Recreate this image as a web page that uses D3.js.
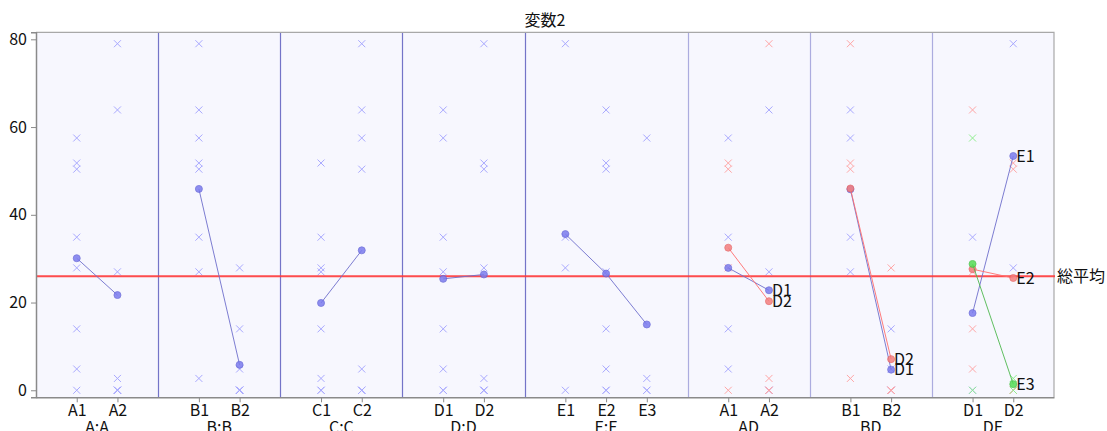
<!DOCTYPE html>
<html><head><meta charset="utf-8">
<script src="https://cdn.jsdelivr.net/npm/d3@7"></script>
<style>
html,body{margin:0;padding:0;background:#fff;}
svg{display:block;}
text{font-family:"Liberation Sans Narrow","Noto Sans CJK JP",sans-serif;}
</style></head>
<body><svg id="c" width="1107" height="431"></svg>
<script>
// ---------- data ----------
const title = "変数2";
const grandMeanLabel = "総平均";
const grandMean = 26.0;
const yTicks = [0, 20, 40, 60, 80];

const panelNames  = ["A:A", "B:B", "C:C", "D:D", "E:E", "AD", "BD", "DE"];
const panelLevels = [["A1","A2"],["B1","B2"],["C1","C2"],["D1","D2"],["E1","E2","E3"],["A1","A2"],["B1","B2"],["D1","D2"]];
const panelSeries = [[""],[""],[""],[""],[""],["D1","D2"],["D1","D2"],["E1","E2","E3"]];

// means (one array per series, one value per level)
const meanA = [30.1, 21.7];
const meanB = [45.9, 5.8];
const meanC = [19.9, 31.9];
const meanD = [25.4, 26.4];
const meanE = [35.6, 26.6, 15.0];
const meanAD_D1 = [27.9, 22.8];
const meanAD_D2 = [32.5, 20.3];
const meanBD_D1 = [45.8, 4.7];
const meanBD_D2 = [46.0, 7.1];
const meanDE_E1 = [17.6, 53.4];
const meanDE_E2 = [27.6, 25.6];
const meanDE_E3 = [28.8, 1.4];

// observations (one array per series per level)
const obsA1 = [57.5, 51.8, 50.4, 34.9, 27.9, 14.0, 4.85, 0];
const obsA2 = [79, 63.9, 27, 2.7, 0, 0, 0, 0];
const obsB1 = [79, 63.9, 57.5, 51.8, 50.4, 34.9, 27, 2.7];
const obsB2 = [27.9, 14, 4.85, 0, 0, 0, 0, 0];
const obsC1 = [51.8, 34.9, 27.9, 27, 14, 2.7, 0, 0];
const obsC2 = [79, 63.9, 57.5, 50.4, 4.85, 0, 0, 0];
const obsD1 = [63.9, 57.5, 34.9, 27, 14, 4.85, 0, 0];
const obsD2 = [79, 51.8, 50.4, 27.9, 2.7, 0, 0, 0];
const obsE1 = [79, 34.9, 27.9, 0];
const obsE2 = [63.9, 51.8, 50.4, 27, 14, 4.85, 0, 0];
const obsE3 = [57.5, 2.7, 0, 0];
const obsAD_A1D1 = [57.5, 34.9, 14, 4.85];
const obsAD_A1D2 = [51.8, 50.4, 27.9, 0];
const obsAD_A2D1 = [63.9, 27, 0, 0];
const obsAD_A2D2 = [79, 2.7, 0, 0];
const obsBD_B1D1 = [63.9, 57.5, 34.9, 27];
const obsBD_B1D2 = [79, 51.8, 50.4, 2.7];
const obsBD_B2D1 = [14, 4.85, 0, 0];
const obsBD_B2D2 = [27.9, 0, 0, 0];
const obsDE_D1E1 = [34.9, 0];
const obsDE_D1E2 = [63.9, 27, 14, 4.85];
const obsDE_D1E3 = [57.5, 0];
const obsDE_D2E1 = [79, 27.9];
const obsDE_D2E2 = [51.8, 50.4, 0, 0];
const obsDE_D2E3 = [2.7, 0];

// table built from the arrays: per panel, per series -> means + obs by level
const panelMeans = [
  [meanA],[meanB],[meanC],[meanD],[meanE],
  [meanAD_D1, meanAD_D2],[meanBD_D1, meanBD_D2],[meanDE_E1, meanDE_E2, meanDE_E3]
];
const panelObs = [
  [[obsA1, obsA2]],[[obsB1, obsB2]],[[obsC1, obsC2]],[[obsD1, obsD2]],[[obsE1, obsE2, obsE3]],
  [[obsAD_A1D1, obsAD_A2D1],[obsAD_A1D2, obsAD_A2D2]],
  [[obsBD_B1D1, obsBD_B2D1],[obsBD_B1D2, obsBD_B2D2]],
  [[obsDE_D1E1, obsDE_D2E1],[obsDE_D1E2, obsDE_D2E2],[obsDE_D1E3, obsDE_D2E3]]
];

// ---------- styles ----------
const pal = [
  {dot:"#7b7bee", dotStroke:"#6262d6", line:"#6f6fcc", cross:"#a9a9ff"},
  {dot:"#f47f7f", dotStroke:"#e46262", line:"#ff6e6e", cross:"#ffa6a6"},
  {dot:"#55dd55", dotStroke:"#3fbf3f", line:"#4fb84f", cross:"#8fee8f"}
];

const L = 36, R = 1054, T = 32.3, B = 397.3;
const svg = d3.select("#c");

// slot layout
let offsets = [], acc = 0;
panelLevels.forEach(lv => { offsets.push(acc); acc += lv.length + 1; });
const totalUnits = acc;
const x = d3.scaleLinear().domain([0, totalUnits]).range([L, R]);
const y = d3.scaleLinear().domain([-1.6, 81.6]).range([B, T]);

// background
svg.append("rect").attr("x", L).attr("y", T).attr("width", R - L).attr("height", B - T)
  .attr("fill", "#f7f7fe");

// dividers
panelLevels.forEach((lv, i) => {
  if (i === 0) return;
  const xx = Math.round(x(offsets[i])) + 0.5;
  svg.append("line").attr("x1", xx).attr("x2", xx).attr("y1", T).attr("y2", B)
    .attr("stroke", i <= 4 ? "#7474c8" : "#acacdf").attr("stroke-width", 1.2);
});

// border top/right
svg.append("path").attr("d", `M${L},${T}H${R}V${B}`).attr("fill", "none")
  .attr("stroke", "#a8a8a8").attr("stroke-width", 1.2);

// crosses
const crossPath = "M-3.5,-3.5L3.5,3.5M-3.5,3.5L3.5,-3.5";
panelLevels.forEach((lv, p) => {
  panelObs[p].forEach((ser, s) => {
    ser.forEach((vals, li) => {
      const cx = x(offsets[p] + li + 1);
      svg.append("g").selectAll("path").data(vals).join("path")
        .attr("d", crossPath)
        .attr("transform", v => `translate(${cx},${y(v)})`)
        .attr("fill", "none").attr("stroke", pal[s].cross).attr("stroke-width", 1);
    });
  });
});

// grand mean line
svg.append("line").attr("x1", L).attr("x2", R + 1).attr("y1", y(grandMean)).attr("y2", y(grandMean))
  .attr("stroke", "#ff3a3a").attr("stroke-width", 2).attr("opacity", 0.9);
svg.append("text").attr("x", R + 3).attr("y", y(grandMean)).attr("dy", "0.36em")
  .attr("font-size", 16).attr("fill", "#111").text(grandMeanLabel);

// mean lines and dots
const line = d3.line().x(d => d[0]).y(d => d[1]);
panelLevels.forEach((lv, p) => {
  panelMeans[p].forEach((m, s) => {
    const pts = m.map((v, li) => [x(offsets[p] + li + 1), y(v)]);
    svg.append("path").attr("d", line(pts)).attr("fill", "none")
      .attr("stroke", pal[s].line).attr("stroke-width", 1).attr("opacity", 0.9);
    svg.append("g").selectAll("circle").data(pts).join("circle")
      .attr("cx", d => d[0]).attr("cy", d => d[1]).attr("r", 3.5)
      .attr("fill", pal[s].dot).attr("stroke", pal[s].dotStroke).attr("stroke-width", 0.8)
      .attr("opacity", 0.85);
    if (panelSeries[p][s]) {
      const last = pts[pts.length - 1];
      svg.append("text").attr("x", last[0] + 3).attr("y", last[1]).attr("dy", "0.36em")
        .attr("font-size", 16).attr("fill", "#111").text(panelSeries[p][s]);
    }
  });
});

// y axis
const yAxis = svg.append("g").attr("transform", `translate(${L},0)`)
  .call(d3.axisLeft(y).tickValues(yTicks).tickSize(5).tickPadding(4));
yAxis.select(".domain").attr("stroke", "#8a8a8a").attr("stroke-width", 1.5);
yAxis.selectAll(".tick line").attr("stroke", "#8a8a8a");
yAxis.selectAll("text").attr("font-size", 16).attr("fill", "#111")
  .style("font-family", '"Liberation Sans Narrow","Noto Sans CJK JP",sans-serif');

// x axis
const tickUnits = [], tickLabels = {};
panelLevels.forEach((lv, p) => lv.forEach((l, li) => {
  const u = offsets[p] + li + 1; tickUnits.push(u); tickLabels[u] = l;
}));
const xAxis = svg.append("g").attr("transform", `translate(0,${B})`)
  .call(d3.axisBottom(x).tickValues(tickUnits).tickFormat(u => tickLabels[u]).tickSize(5).tickPadding(2).tickSizeOuter(0));
xAxis.select(".domain").attr("stroke", "#8a8a8a").attr("stroke-width", 1.5);
xAxis.selectAll(".tick line").attr("stroke", "#8a8a8a");
xAxis.selectAll("text").attr("font-size", 16).attr("fill", "#111")
  .style("font-family", '"Liberation Sans Narrow","Noto Sans CJK JP",sans-serif');

// group labels
panelNames.forEach((n, p) => {
  const n0 = panelLevels[p].length;
  const cx = (x(offsets[p] + 1) + x(offsets[p] + n0)) / 2;
  svg.append("text").attr("x", cx).attr("y", 433).attr("text-anchor", "middle")
    .attr("font-size", 16).attr("fill", "#111").text(n);
});

// title
svg.append("text").attr("x", (L + R) / 2).attr("y", 26).attr("text-anchor", "middle")
  .attr("font-size", 16).attr("fill", "#111").text(title);
</script>
</body></html>
